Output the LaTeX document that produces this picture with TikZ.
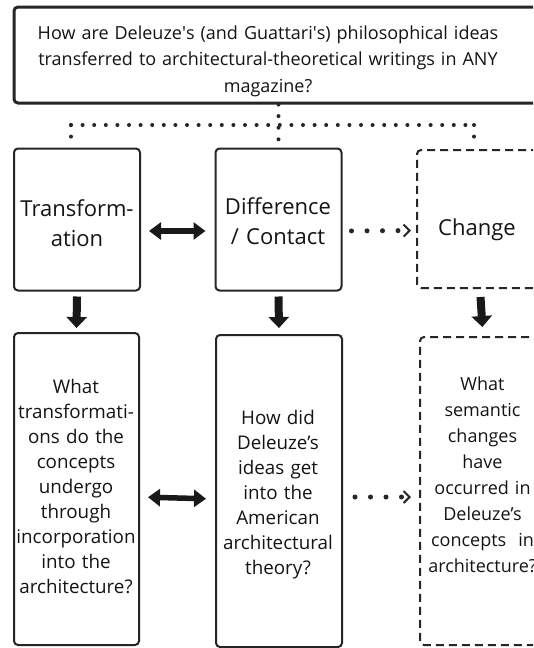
\documentclass[tikz,border=0pt]{standalone}
\usepackage{fontspec}
\setmainfont{Open Sans}
\usetikzlibrary{arrows.meta}
\begin{document}
\begin{tikzpicture}[x=1pt,y=-1pt,
  box/.style={draw=black!85, line width=2pt, rounded corners=4pt, inner sep=0pt},
  dbox/.style={box, dash pattern=on 8pt off 5pt},
  txt/.style={anchor=base, text width=170pt, align=center, inner sep=0pt, text=black!92},
  qfont/.style={font=\fontsize{18}{26.5}\selectfont},
  hfont/.style={font=\fontsize{22}{30.5}\selectfont},
  rfont/.style={font=\fontsize{18.8}{25}\selectfont},
  dots/.style={draw=black!85, line width=4pt, line cap=round, dash pattern=on 0pt off 11.6pt},
  dnarrow/.style={draw=black!90, line width=8pt, -{Triangle[width=20pt,length=11pt]}},
  dblarrow/.style={draw=black!90, line width=5.5pt, {Triangle[width=17pt,length=12pt]}-{Triangle[width=17pt,length=12pt]}},
  dotarrow/.style={draw=black!85, line width=5pt, line cap=round, dash pattern=on 0pt off 15.5pt, -{Straight Barb[length=6pt,width=12pt,line width=2pt]}}
]
\clip (0,0) rectangle (533,648);
\fill[white] (0,0) rectangle (533,648);

% top question
\node[box, line width=3pt, minimum width=535pt, minimum height=96pt] (top) at (281.5,55) {};
\node[txt, qfont, text width=520pt] (q) at (268,39) {How are Deleuze\textquotesingle s (and Guattari\textquotesingle s) philosophical ideas\\transferred to architectural-theoretical writings in ANY\\magazine?};

% row 1
\node[box, minimum width=126pt, minimum height=142pt] (tr) at (77,219.5) {};
\node[box, minimum width=126pt, minimum height=142pt] (df) at (278.5,219.5) {};
\node[dbox, minimum width=126pt, minimum height=138pt] (ch) at (480,219) {};
\node[txt, hfont] (trt) at (77,216) {Transform-\\ation};
\node[txt, hfont] (dft) at (278,214) {Difference\\/ Contact};
\node[txt, hfont] (cht) at (477,235) {Change};

% row 2
\node[box, minimum width=125pt, minimum height=312pt] (tr2) at (76.5,489) {};
\node[box, minimum width=126pt, minimum height=312pt] (df2) at (279,491) {};
\node[dbox, minimum width=126pt, minimum height=308pt] (ch2) at (483,491) {};
\node[txt, rfont] (tr2t) at (76,393) {What\\transformati-\\ons do the\\concepts\\undergo\\through\\incorporation\\into the\\architecture?};
\node[txt, rfont] (df2t) at (278,424) {How did\\Deleuze’s\\ideas get\\into the\\American\\architectural\\theory?};
\node[txt, font=\fontsize{18}{26}\selectfont] (ch2t) at (482.5,390) {What\\semantic\\changes\\have\\occurred in\\Deleuze’s\\concepts~~in\\architecture?};

% dotted tree
\coordinate (jL) at (71,125);
\coordinate (jR) at (474,125);
\coordinate (dL) at (71,137);
\coordinate (dR) at (474,137);
\draw[dots] (df.north |- top.south) -- (df.north);
\draw[dots] (jL) -- (jR);
\draw[dots] (jL) -- (dL);
\draw[dots] (jR) -- (dR);

% arrows row 1
\draw[dblarrow, shorten <=8pt, shorten >=9pt] ([yshift=-11.5pt]tr.east) -- ([yshift=-11.5pt]df.west);
\draw[dotarrow, dash phase=6.5pt, shorten >=5pt] ([yshift=-11.5pt]df.east) -- ([yshift=-11.5pt]ch.west);

% down arrows
\draw[dnarrow, shorten <=5pt, shorten >=4pt] (tr.south) -- (tr2.north);
\draw[dnarrow, shorten <=5pt, shorten >=6pt] (df.south) -- (df2.north);
\draw[dnarrow, shorten <=8pt, shorten >=9pt] (ch.south) -- (ch2.north);

% arrows row 2
\draw[dblarrow, shorten <=8pt, shorten >=9pt] ([yshift=-8pt]tr2.east) -- ([yshift=-8pt]df2.west);
\draw[dotarrow, dash phase=3.5pt, shorten >=8pt] ([yshift=-6pt]df2.east) -- ([yshift=-6pt]ch2.west);
\end{tikzpicture}
\end{document}
